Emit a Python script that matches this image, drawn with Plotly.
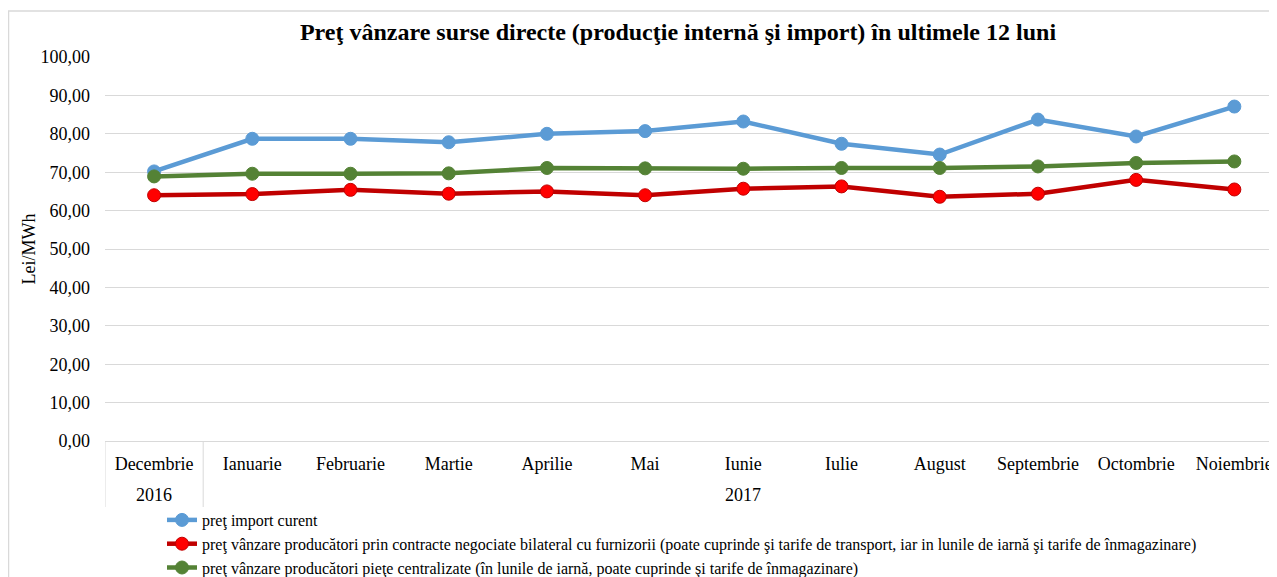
import plotly.graph_objects as go

months = ["Decembrie", "Ianuarie", "Februarie", "Martie", "Aprilie", "Mai", "Iunie",
          "Iulie", "August", "Septembrie", "Octombrie", "Noiembrie"]
years = ["2016"] + ["2017"] * 11

import_curent = [70.2, 78.7, 78.7, 77.8, 80.0, 80.7, 83.2, 77.4, 74.6, 83.7, 79.3, 87.1]
bilateral = [64.0, 64.3, 65.4, 64.4, 65.0, 64.0, 65.7, 66.3, 63.6, 64.4, 68.0, 65.5]
centralizate = [68.9, 69.6, 69.6, 69.7, 71.1, 71.0, 70.9, 71.1, 71.1, 71.5, 72.4, 72.8]

names = [
    "preţ import curent",
    "preţ vânzare producători prin contracte negociate bilateral cu furnizorii (poate cuprinde şi tarife de transport, iar in lunile de iarnă şi tarife de înmagazinare)",
    "preţ vânzare producători pieţe centralizate (în lunile de iarnă, poate cuprinde şi tarife de înmagazinare)",
]

# the page body adds an 8px offset; figure coordinates = page coordinates - 8
OFF = 8
W, H = 1277 - OFF, 577 - OFF
L, R, T = 105 - OFF, 0, 57 - OFF
PB = 441 - OFF  # plot bottom in figure px
B = H - PB
pw, ph = W - L - R, PB - T

FONT = "Liberation Serif, Times New Roman, serif"
xs = list(range(len(months)))
xmax = 11 + (1277 - 1234) / 99

fig = go.Figure()
styles = [
    dict(line="#5b9bd5", mfill="#5b9bd5", mline="#5b9bd5"),
    dict(line="#c00000", mfill="#ff0000", mline="#c00000"),
    dict(line="#548235", mfill="#548235", mline="#548235"),
]
for nm, vals, st in zip(names, [import_curent, bilateral, centralizate], styles):
    fig.add_trace(go.Scatter(
        x=xs, y=vals, name=nm, mode="lines+markers",
        line=dict(color=st["line"], width=4.5),
        marker=dict(size=13, color=st["mfill"], line=dict(color=st["mline"], width=1)),
    ))

fig.update_layout(
    width=W, height=H,
    margin=dict(l=L, r=R, t=T, b=B, autoexpand=False),
    paper_bgcolor="white", plot_bgcolor="white",
    separators=",.",
    font=dict(family=FONT, size=18, color="#000000"),
    title=dict(text="<b>Preţ vânzare surse directe (producţie internă şi import) în ultimele 12 luni</b>",
               x=(678 - OFF) / W, xanchor="center", y=1 - (32 - OFF) / H, yanchor="middle",
               automargin=False, font=dict(family=FONT, size=24, color="#000000")),
    showlegend=True,
    legend=dict(orientation="v", x=(162 - 105) / pw, xanchor="left",
                y=-(503 - 441) / ph, yanchor="top",
                font=dict(family=FONT, size=16, color="#000000"),
                bgcolor="rgba(0,0,0,0)", tracegroupgap=0, itemwidth=30),
)
fig.update_yaxes(range=[0, 100], dtick=10, tickformat=".2f", automargin=False,
                 showgrid=True, gridcolor="#d9d9d9", gridwidth=1,
                 zeroline=False, showline=False, ticks="", ticklabelstandoff=14,
                 tickfont=dict(family=FONT, size=18, color="#000000"),
                 title=dict(text="Lei/MWh", standoff=0,
                            font=dict(family=FONT, size=18, color="#000000")))
fig.update_xaxes(range=[-0.5, xmax], automargin=False,
                 tickmode="array", tickvals=xs, ticktext=months, ticklabelstandoff=6,
                 showline=True, linecolor="#d9d9d9", linewidth=1,
                 showgrid=False, zeroline=False, ticks="",
                 tickfont=dict(family=FONT, size=18, color="#000000"))

# year group labels and dividers, derived from the years list
div_bottom = -(507 - 441) / ph
groups = []
for i, yv in enumerate(years):
    if not groups or groups[-1][0] != yv:
        groups.append([yv, i, i])
    else:
        groups[-1][2] = i
for yv, i0, i1 in groups:
    left = i0 - 0.5
    right = i1 + 0.5
    fig.add_annotation(x=(left + right) / 2, xref="x", y=-(495 - 441) / ph, yref="paper",
                       text=yv, showarrow=False, xanchor="center", yanchor="middle",
                       font=dict(family=FONT, size=18, color="#000000"))
    fig.add_shape(type="line", xref="x", yref="paper", x0=left, x1=left, y0=0, y1=div_bottom,
                  line=dict(color="#d9d9d9", width=1))

# chart outer border
fig.add_shape(type="rect", xref="paper", yref="paper",
              x0=-(L - 0.5) / pw, x1=1.05, y0=-0.6, y1=1 + (T - (11 - OFF)) / ph,
              line=dict(color="#d9d9d9", width=1.5), fillcolor="rgba(0,0,0,0)", layer="below")

fig.write_html("out.html")
